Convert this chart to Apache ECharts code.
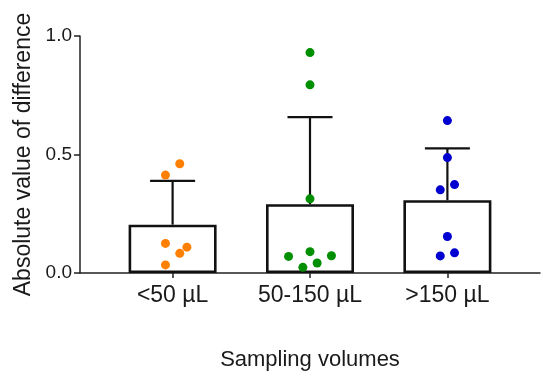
<!DOCTYPE html>
<html>
<head>
<meta charset="utf-8">
<script src="https://cdn.jsdelivr.net/npm/echarts@6/dist/echarts.min.js"></script>
<style>html,body{margin:0;padding:0;background:#fff}#c{width:550px;height:381px}</style>
</head>
<body>
<div id="c"></div>
<script>
// ---- data ----
var categories = ['<50 µL', '50-150 µL', '>150 µL'];
var barMeans = [0.204, 0.290, 0.307];
var barSD = [0.185, 0.368, 0.219];
var groupColors = ['#FF8000', '#008F00', '#0000D0'];
var pointsLow = [0.461, 0.413, 0.125, 0.109, 0.083, 0.034];
var jitterLow = [1, -1, -1, 2, 1, -1];
var pointsMid = [0.930, 0.794, 0.313, 0.090, 0.070, 0.073, 0.042, 0.024];
var jitterMid = [0, 0, 0, 0, -3, 3, 1, -1];
var pointsHigh = [0.643, 0.487, 0.373, 0.351, 0.154, 0.085, 0.072];
var jitterHigh = [0, 0, 1, -1, 0, 1, -1];
var yTicks = [0, 0.5, 1.0];

var FONT = 'Liberation Sans, Arial, sans-serif';
var STEP = 0.052; // horizontal jitter step in category units

function pts(idx, vals, jit) {
  return vals.map(function (v, i) { return [idx + jit[i] * STEP, v]; });
}

var chart = echarts.init(document.getElementById('c'), null, { renderer: 'canvas' });
var option = {
  animation: false,
  backgroundColor: '#fff',
  grid: { left: 80, right: 10, top: 36, bottom: 108, containLabel: false },
  xAxis: {
    type: 'value',
    min: -0.674, max: 2.674,
    splitLine: { show: false },
    axisLine: { show: true, onZero: false, lineStyle: { color: '#222', width: 1.5 } },
    axisTick: { show: true, customValues: [0, 1, 2], length: 5, lineStyle: { color: '#222', width: 1.5 } },
    axisLabel: {
      customValues: [0, 1, 2],
      formatter: function (v) { return categories[Math.round(v)]; },
      color: '#1a1a1a', fontSize: 23, fontFamily: FONT, margin: 11
    },
    name: 'Sampling volumes',
    nameLocation: 'middle',
    nameGap: 76,
    nameTextStyle: { color: '#1a1a1a', fontSize: 22, fontFamily: FONT }
  },
  yAxis: {
    type: 'value',
    min: 0, max: 1.0, interval: 0.5,
    splitLine: { show: false },
    axisLine: { show: true, onZero: false, lineStyle: { color: '#222', width: 1.5 } },
    axisTick: { show: true, length: 6, lineStyle: { color: '#222', width: 1.5 } },
    axisLabel: {
      customValues: yTicks,
      formatter: function (v) { return v.toFixed(1); },
      color: '#1a1a1a', fontSize: 19, fontFamily: FONT, margin: 8
    },
    name: 'Absolute value of difference',
    nameLocation: 'middle',
    nameRotate: 90,
    nameGap: 42,
    nameTextStyle: { color: '#1a1a1a', fontSize: 23, fontFamily: FONT }
  },
  series: [
    {
      type: 'bar',
      data: barMeans.map(function (v, i) { return [i, v]; }),
      barWidth: 88,
      itemStyle: { color: '#fff', borderColor: '#111', borderWidth: 2.6 },
      z: 2
    },
    {
      type: 'custom',
      z: 3,
      data: barMeans.map(function (v, i) { return [i, v, v + barSD[i]]; }),
      renderItem: function (params, api) {
        var base = api.coord([api.value(0), api.value(1)]);
        var top = api.coord([api.value(0), api.value(2)]);
        var hw = 22.5;
        var st = { stroke: '#111', lineWidth: 2.2 };
        return {
          type: 'group',
          children: [
            { type: 'line', shape: { x1: base[0], y1: base[1], x2: top[0], y2: top[1] }, style: st },
            { type: 'line', shape: { x1: top[0] - hw, y1: top[1], x2: top[0] + hw, y2: top[1] }, style: st }
          ]
        };
      }
    },
    { type: 'scatter', z: 4, symbolSize: 9, itemStyle: { color: groupColors[0], opacity: 1 }, data: pts(0, pointsLow, jitterLow) },
    { type: 'scatter', z: 4, symbolSize: 9, itemStyle: { color: groupColors[1], opacity: 1 }, data: pts(1, pointsMid, jitterMid) },
    { type: 'scatter', z: 4, symbolSize: 9, itemStyle: { color: groupColors[2], opacity: 1 }, data: pts(2, pointsHigh, jitterHigh) }
  ]
};
chart.setOption(option);
</script>
</body>
</html>
